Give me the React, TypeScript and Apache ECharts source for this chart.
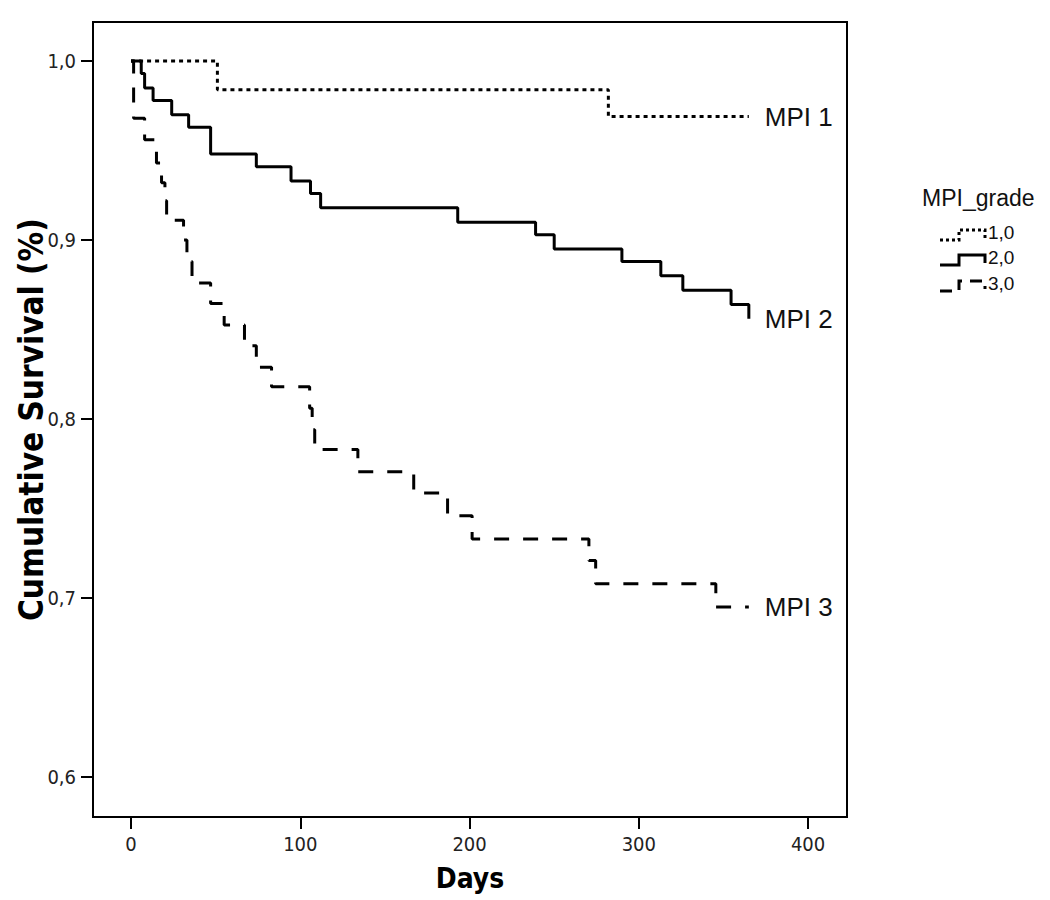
import React, { useEffect, useRef } from "react";
import * as echarts from "echarts";

// Kaplan-Meier step data
const days1 = [0, 51, 282, 365];
const surv1 = [1.0, 0.984, 0.969, 0.969];

const days2 = [0, 6, 8, 13, 24, 34, 47, 74, 94.5, 106, 112, 193, 239, 250, 290, 313, 326, 354.5, 365];
const surv2 = [1.0, 0.993, 0.985, 0.978, 0.970, 0.963, 0.948, 0.941, 0.933, 0.926, 0.918, 0.910, 0.903, 0.895, 0.888, 0.880, 0.872, 0.864, 0.856];

const days3 = [0, 1.5, 8, 15, 18, 20, 21, 31, 33, 36, 47, 55, 67, 74, 83, 105.5, 107, 108.5, 134, 167, 187, 201.5, 270.5, 274.5, 345.5, 365];
const surv3 = [1.0, 0.968, 0.956, 0.943, 0.932, 0.922, 0.911, 0.900, 0.888, 0.876, 0.8645, 0.8525, 0.841, 0.829, 0.818, 0.806, 0.794, 0.783, 0.7705, 0.7587, 0.746, 0.733, 0.721, 0.708, 0.695, 0.695];

const endLabels = ["MPI 1", "MPI 2", "MPI 3"];
const legendTitle = "MPI_grade";
const legendItems = ["1,0", "2,0", "3,0"];
const xTicks = [0, 100, 200, 300, 400];
const yTicks = [0.6, 0.7, 0.8, 0.9, 1.0];

const NARROW = "'Liberation Sans Narrow', 'Arial Narrow', 'DejaVu Sans Condensed', sans-serif";
const SANS = "'Liberation Sans', Arial, sans-serif";

const zip = (a: number[], b: number[]) => a.map((v, i) => [v, b[i]]);

export default function App() {
  const ref = useRef<HTMLDivElement>(null);
  useEffect(() => {
    if (!ref.current) return;
    const chart = echarts.init(ref.current, null, { renderer: "svg" });
    const dashes: any[] = [[4, 4], "solid", [15, 14]];
    const series = [zip(days1, surv1), zip(days2, surv2), zip(days3, surv3)].map((d, i) => ({
      type: "line",
      step: "end",
      data: d,
      symbol: "none",
      lineStyle: { color: "#000", width: 3, type: dashes[i] },
      endLabel: {
        show: true,
        formatter: endLabels[i],
        distance: 16,
        fontSize: 26,
        fontFamily: SANS,
        color: "#111",
      },
      z: 3,
    }));
    const legendRows = [233, 258, 284];
    const legendDash: any[] = [[3, 3], null, [12, 8]];
    const graphics: any[] = [
      {
        type: "text",
        left: 922,
        top: 186,
        style: { text: legendTitle, fontSize: 23, fontFamily: SANS, fill: "#111" },
      },
    ];
    legendItems.forEach((t, i) => {
      const c = legendRows[i];
      graphics.push({
        type: "polyline",
        shape: { points: [[940, c + 7], [959, c + 7], [959, c - 3], [985, c - 3], [985, c + 5]] },
        style: { stroke: "#000", lineWidth: 3, fill: null, lineDash: legendDash[i] || undefined },
      });
      graphics.push({
        type: "text",
        left: 988,
        top: c - 10,
        style: { text: t, fontSize: 19, fontFamily: SANS, fill: "#111" },
      });
    });
    chart.setOption({
      animation: false,
      backgroundColor: "#fff",
      grid: {
        left: 93,
        top: 22,
        width: 754,
        height: 795,
        containLabel: false,
        outerBoundsMode: "none",
        show: true,
        borderColor: "#000",
        borderWidth: 2,
        backgroundColor: "transparent",
      },
      xAxis: {
        type: "value",
        min: -22.5,
        max: 423,
        name: "Days",
        nameLocation: "middle",
        nameGap: 47,
        nameMoveOverlap: false,
        nameTextStyle: { fontSize: 28, fontWeight: "bold", fontFamily: NARROW, color: "#000", verticalAlign: "top" },
        axisLine: { show: false, onZero: false },
        splitLine: { show: false },
        axisTick: { show: true, length: 12, lineStyle: { color: "#000", width: 2 }, customValues: xTicks },
        axisLabel: { fontSize: 20, fontFamily: NARROW, color: "#222", margin: 17, customValues: xTicks },
      },
      yAxis: {
        type: "value",
        min: 0.5777,
        max: 1.0218,
        name: "Cumulative Survival (%)",
        nameLocation: "middle",
        nameGap: 45,
        nameMoveOverlap: false,
        nameTextStyle: { fontSize: 33, fontWeight: "bold", fontFamily: NARROW, color: "#000" },
        axisLine: { show: false, onZero: false },
        splitLine: { show: false },
        axisTick: { show: true, length: 12, lineStyle: { color: "#000", width: 2 }, customValues: yTicks },
        axisLabel: {
          fontSize: 20,
          fontFamily: NARROW,
          color: "#222",
          margin: 17,
          customValues: yTicks,
          formatter: (v: number) => v.toFixed(1).replace(".", ","),
        },
      },
      graphic: graphics,
      series,
    });
    return () => chart.dispose();
  }, []);
  return (
    <div
      ref={ref}
      style={{ position: "absolute", left: 0, top: 0, width: 1050, height: 900 }}
    />
  );
}
